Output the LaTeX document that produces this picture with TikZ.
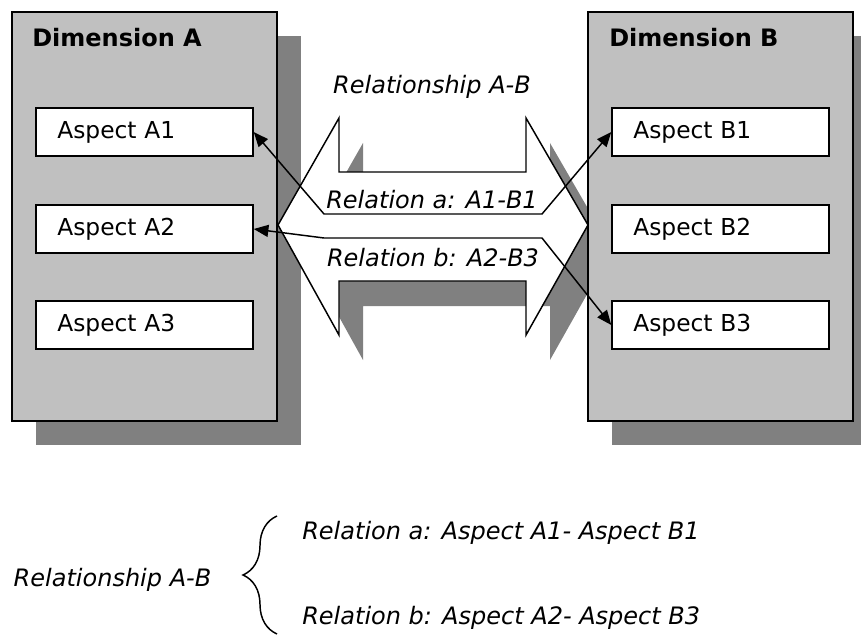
\documentclass[tikz,border=0pt]{standalone}
\usepackage{fontspec}
\setmainfont{DejaVu Sans}
\usepackage{tikz}
\usetikzlibrary{positioning,shadows,arrows.meta,decorations.pathreplacing}
\definecolor{boxgray}{HTML}{C0C0C0}
\definecolor{shadowgray}{HTML}{808080}

\begin{document}
\begin{tikzpicture}[x=0.75pt, y=-0.75pt,
	dimension/.style={draw=black, line width=1.1pt, fill=boxgray, minimum width=198.75pt, minimum height=306.75pt, drop shadow={shadow xshift=18pt, shadow yshift=-18pt, fill=shadowgray, opacity=1}},
	aspect/.style={draw=black, line width=1.1pt, fill=white, inner xsep=16pt, text width=130.75pt, align=left, minimum height=36pt, font=\fontsize{17.5}{20}\selectfont},
	dimtitle/.style={anchor=west, inner sep=0pt, font=\fontsize{18}{20}\selectfont\bfseries},
	rel/.style={inner sep=0pt, font=\fontsize{18}{20}\selectfont\itshape},
	link/.style={line width=1.1pt, {Triangle[length=11pt,width=9pt]}-{Triangle[length=11pt,width=9pt]}}]
	\useasboundingbox (0,0) rectangle (861,635);
	\node[dimension] (dimA) at (144.5,216.5) {};
	\draw[line width=1.1pt, fill=white, drop shadow={shadow xshift=18pt, shadow yshift=-18.75pt, fill=shadowgray, opacity=1}] (278,225) -- (339,118) -- (339,172) -- (526,172) -- (526,118) -- (588,225) -- (526,335) -- (526,281) -- (339,281) -- (339,335) -- cycle;
	\node[dimension] (dimB) at (720.5,216.5) {};
	\node[dimtitle] (titleA) at (32,38) {Dimension A};
	\node[dimtitle] (titleB) at (609,38) {Dimension B};
	\node[aspect] (A1) at (144.5,132) {Aspect A1};
	\node[aspect] (A2) at (144.5,229) {Aspect A2};
	\node[aspect] (A3) at (144.5,325) {Aspect A3};
	\node[aspect] (B1) at (720.5,132) {Aspect B1};
	\node[aspect] (B2) at (720.5,229) {Aspect B2};
	\node[aspect] (B3) at (720.5,325) {Aspect B3};
	\coordinate (ra-l) at (324,214);
	\coordinate (ra-r) at (542,214);
	\coordinate (rb-l) at (324,238);
	\coordinate (rb-r) at (542,238);
	\draw[link] (A1.east) -- (ra-l) -- (ra-r) -- (B1.west);
	\draw[link] (A2.east) -- (rb-l) -- (rb-r) -- (B3.west);
	\node[rel] (relAB) at (432,87) {Relationship A-B};
	\node[rel] (rela) at (432,200) {Relation a: A1-B1};
	\node[rel] (relb) at (433,258) {Relation b: A2-B3};
	\node[rel] (sumAB) at (112.5,580) {Relationship A-B};
	\coordinate (brace-b) at (277,634);
	\coordinate (brace-t) at (277,516);
	\draw[line width=1.1pt, decorate, decoration={brace, amplitude=25.5pt}] (brace-b) -- (brace-t);
	\node[rel, anchor=west] (suma) at (302,533) {Relation a: Aspect A1- Aspect B1};
	\node[rel, anchor=west] (sumb) at (302,618) {Relation b: Aspect A2- Aspect B3};
\end{tikzpicture}
\end{document}
